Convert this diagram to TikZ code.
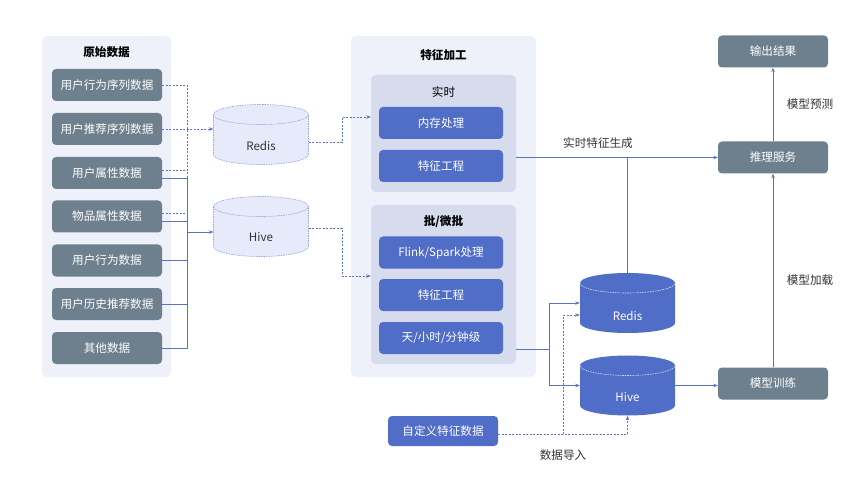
\documentclass[tikz,border=0pt]{standalone}
\usepackage{fontspec}
\newfontfamily\cjk{Noto Sans CJK SC}
\usetikzlibrary{arrows.meta}

\definecolor{panelbg}{RGB}{238,240,250}
\definecolor{groupbg}{RGB}{214,219,238}
\definecolor{rawgray}{RGB}{110,128,141}
\definecolor{procblue}{RGB}{80,109,200}
\definecolor{linkblue}{RGB}{92,114,196}
\definecolor{dbfill}{RGB}{231,234,250}
\definecolor{dbedge}{RGB}{150,162,222}
\definecolor{labelgray}{RGB}{51,51,51}

% cylinder body: centre x, centre y, body style, front arc style
\newcommand{\dbdraw}[4]{%
  \draw[#3] ({#1-47.5},{#2-20}) -- ({#1-47.5},{#2+20})
    arc[start angle=180, end angle=360, x radius=47.5pt, y radius=10pt]
    -- ({#1+47.5},{#2-20})
    arc[start angle=0, end angle=180, x radius=47.5pt, y radius=10pt] -- cycle;
  \draw[#4] ({#1-47.5},{#2-20}) arc[start angle=180, end angle=360, x radius=47.5pt, y radius=10pt];
}

\begin{document}
\begin{tikzpicture}[x=1pt, y=-1pt, font=\cjk\fontsize{11.6}{13}\selectfont]
      \tikzstyle{STY1} = [draw=none, fill=rawgray, text=white, rectangle, minimum height=32, minimum width=110, rounded corners=4pt, inner sep=0pt]
      \tikzstyle{STY2} = [draw=none, fill=procblue, text=white, rectangle, minimum height=32, minimum width=124, rounded corners=4pt, inner sep=0pt]
      \tikzstyle{STY3} = [draw=none, fill=panelbg, rectangle, rounded corners=5pt, inner sep=0pt]
      \tikzstyle{STY4} = [draw=none, fill=groupbg, rectangle, rounded corners=5pt, inner sep=0pt]
      \tikzstyle{STY5} = [draw=none, fill=none, inner sep=0pt, text=labelgray]
      \tikzstyle{STY6} = [draw=none, fill=none, rectangle, minimum height=60, minimum width=95, inner sep=0pt]
      \tikzstyle{STY7} = [draw=linkblue, line width=0.8pt, -{Stealth[length=4.5pt, width=3.5pt]}]
      \tikzstyle{STY8} = [STY7, dash pattern=on 2pt off 1.5pt]
      \tikzstyle{STY9} = [draw=linkblue, line width=0.8pt]
      \tikzstyle{STY10} = [STY5, text=black, font=\cjk\fontsize{11.6}{13}\selectfont\bfseries]

      \fill[white] (0,0) rectangle (864,486);
      \useasboundingbox (0,0) rectangle (864,486);

      %%%%% PANELS

      \node[STY3, minimum width=129, minimum height=341](v0) at (106.5, 206.5) {};
      \node[STY3, minimum width=185, minimum height=341](v1) at (443.5, 206.5) {};
      \node[STY4, minimum width=145, minimum height=117](v2) at (443.5, 133.5) {};
      \node[STY4, minimum width=145, minimum height=159](v3) at (443.5, 284.5) {};

      \node[STY10](t0) at (106.5, 52) {原始数据};
      \node[STY10](t1) at (443.5, 55) {特征加工};
      \node[STY5, text=black](t2) at (443.5, 92) {实时};
      \node[STY10](t3) at (443.5, 222) {批/微批};

      %%%%% VERTEX

      \node[STY1](v4) at (107, 85.0) {用户行为序列数据};
      \node[STY1](v5) at (107, 129.0) {用户推荐序列数据};
      \node[STY1](v6) at (107, 173.0) {用户属性数据};
      \node[STY1](v7) at (107, 216.5) {物品属性数据};
      \node[STY1](v8) at (107, 260.5) {用户行为数据};
      \node[STY1](v9) at (107, 304.0) {用户历史推荐数据};
      \node[STY1](v10) at (107, 348.0) {其他数据};

      \node[STY2](v11) at (441, 123.0) {内存处理};
      \node[STY2](v12) at (441, 166.0) {特征工程};
      \node[STY2](v13) at (441, 252.5) {Flink/Spark处理};
      \node[STY2](v14) at (441, 295.0) {特征工程};
      \node[STY2](v15) at (441, 338.0) {天/小时/分钟级};

      \node[STY1](v16) at (773, 51.5) {输出结果};
      \node[STY1](v17) at (773, 157.5) {推理服务};
      \node[STY1](v18) at (773, 383.5) {模型训练};
      \node[STY2, minimum width=110, minimum height=30](v19) at (443, 431) {自定义特征数据};

      \dbdraw{261}{134.5}{fill=dbfill, draw=dbedge, line width=0.6pt, dash pattern=on 1.5pt off 1pt}{draw=dbedge, line width=0.6pt, dash pattern=on 1.5pt off 1pt}
      \node[STY6](v20) at (261, 134.5) {};
      \node[STY5, text=labelgray](v21) at (261, 145.5) {Redis};

      \dbdraw{261}{226.5}{fill=dbfill, draw=dbedge, line width=0.6pt, dash pattern=on 1.5pt off 1pt}{draw=dbedge, line width=0.6pt, dash pattern=on 1.5pt off 1pt}
      \node[STY6](v22) at (261, 226.5) {};
      \node[STY5, text=labelgray](v23) at (261, 237.5) {Hive};

      \dbdraw{627.5}{303}{fill=procblue, draw=none}{draw=white!80!procblue, line width=0.6pt, dash pattern=on 1.5pt off 1pt}
      \node[STY6](v24) at (627.5, 303) {};
      \node[STY5, text=white](v25) at (627.5, 316) {Redis};

      \dbdraw{627.5}{385.5}{fill=procblue, draw=none}{draw=white!80!procblue, line width=0.6pt, dash pattern=on 1.5pt off 1pt}
      \node[STY6](v26) at (627.5, 385.5) {};
      \node[STY5, text=white](v27) at (627.5, 397) {Hive};

      \node[STY5](v28) at (598, 143) {实时特征生成};
      \node[STY5](v29) at (810, 104) {模型预测};
      \node[STY5](v30) at (810, 280) {模型加载};
      \node[STY5](v31) at (563, 455) {数据导入};

      \coordinate (c1) at (187, 85);
      \coordinate (c2) at (187, 213.5);
      \coordinate (c3) at (187, 178);
      \coordinate (c4) at (187, 348);
      \coordinate (c5) at (187, 232);
      \coordinate (c6) at (342, 117);
      \coordinate (c7) at (342, 276);
      \coordinate (c8) at (549, 349);
      \coordinate (c9) at (563, 434);

      %%%%% EDGES

      \draw[STY9, dash pattern=on 2pt off 1.5pt]  (v4.east) -- (c1) -- (c2);
      \draw[STY8]  (v5.east) -- (v5.east -| v20.west);
      \draw[STY9, dash pattern=on 2pt off 1.5pt]  ([yshift=3pt]v6.east) -- ++(25,0);
      \draw[STY9, dash pattern=on 2pt off 1.5pt]  ([yshift=3pt]v7.east) -- (c2);

      \draw[STY9]  ([yshift=-5pt]v6.east) -- (c3) -- (c4) -- (v10.east);
      \draw[STY9]  ([yshift=-5pt]v7.east) -- ++(25,0);
      \draw[STY9]  (v8.east) -- (v8.east -| c3);
      \draw[STY9]  (v9.east) -- (v9.east -| c3);
      \draw[STY7]  (c5) -- (c5 -| v22.west);

      \draw[STY8]  ([yshift=-8pt]v20.east) -| (c6) -- (c6 -| v2.west);
      \draw[STY8]  ([yshift=-2pt]v22.east) -| (c7) -- (c7 -| v3.west);

      \draw[STY7]  (v17.west -| v2.east) -- (v17.west);
      \draw[STY9]  (v17.west -| v24.north) -- (v24.north);
      \draw[STY9]  (c8 -| v3.east) -- (c8);
      \draw[STY7]  (c8) |- (v24.west);
      \draw[STY7]  (c8) |- (v26.west);
      \draw[STY7]  (v26.east) -- (v26.east -| v18.west);
      \draw[STY7]  (v18.north) -- (v17.south);
      \draw[STY7]  (v17.north) -- (v16.south);

      \draw[STY8]  (v19.east |- c9) -| (v26.south);
      \draw[STY8]  (c9) |- ([yshift=-12pt]v24.west);
    \end{tikzpicture}
\end{document}
